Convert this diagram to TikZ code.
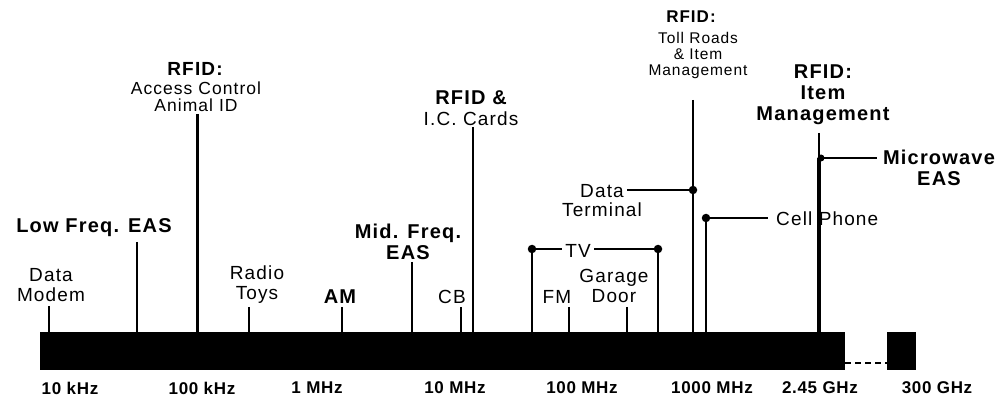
\documentclass[tikz,border=0pt]{standalone}
\usepackage{fontspec}
\setmainfont{Liberation Sans}
\newfontfamily\widefont{Liberation Sans}[LetterSpace=6]
\newfontfamily\freqfont{Liberation Sans}[LetterSpace=4]
\usetikzlibrary{positioning}

\begin{document}
\begin{tikzpicture}[x=1pt,y=-1pt,
    lbl/.style={font=\widefont\fontsize{19}{20}\selectfont, align=center, inner sep=0pt},
    blbl/.style={font=\widefont\bfseries\fontsize{20}{21}\selectfont, align=center, inner sep=0pt},
    slbl/.style={font=\widefont\fontsize{15.5}{16}\selectfont, align=center, inner sep=0pt},
    freq/.style={font=\freqfont\bfseries\fontsize{17}{18}\selectfont, inner sep=0pt},
    band/.style={fill=black, inner sep=0pt, minimum height=38pt, anchor=north west},
    tick/.style={line width=2.5pt},
    dot/.style={circle, fill=black, inner sep=0pt, minimum size=8.5pt}]
    \useasboundingbox (0,0) rectangle (1004,403);

    % spectrum band
    \node[band, minimum width=805pt] (band) at (40,332) {};
    \node[band, minimum width=29pt] (far) at (887,332) {};
    \draw[line width=2pt, dash pattern=on 6pt off 4pt]
        ([yshift=-12pt]band.east) -- ([yshift=-12pt]far.west);

    % frequency scale
    \foreach \x/\f in {70/10 kHz,202/100 kHz,317/1 MHz,455/10 MHz,
                       582/100 MHz,712/1000 MHz,820/2.45 GHz,937/300 GHz}
        {\node[freq] (f\x) at (\x,388) {\f};}

    % ticks
    \foreach \n/\x/\y in {modem/49/306,lowf/137/242,acc/197/114,toys/249/307,
                          am/342/307,midf/412/262,cb/461/307,icc/473/127,
                          tvl/532/249,fm/569/307,gar/627/307,tvr/658/249,
                          toll/693/100,cell/706/218}
        {\coordinate (\n) at (\x,\y);}
    \foreach \n in {modem,lowf,toys,am,midf,cb,icc,tvl,fm,gar,tvr,toll,cell}
        {\draw[tick] (\n) -- (\n |- band.north);}
    \draw[line width=3pt] (acc) -- (acc |- band.north);

    \coordinate (item) at (819,133);
    \coordinate (mw) at (819,158);
    \draw[tick] (item) -- (mw);
    \draw[line width=4.5pt] (mw) -- (mw |- band.north);

    % labels
    \node[lbl] (modemlbl) at (51,285) {Data\\Modem};
    \node[blbl] (lowflbl) at (94,228) {Low Freq. EAS};
    \node[blbl, font=\widefont\bfseries\fontsize{19}{20}\selectfont] (acclbl) at (195,69) {RFID:};
    \node[lbl, font=\widefont\fontsize{17.5}{17}\selectfont] (acclbl2) at (196,97) {Access Control\\Animal ID};
    \node[lbl] (toyslbl) at (257,285) {Radio\\Toys};
    \node[blbl] (amlbl) at (340,297) {AM};
    \node[blbl] (midflbl) at (408,242) {Mid. Freq.\\EAS};
    \node[lbl] (cblbl) at (452,297) {CB};
    \node[blbl] (icclbl) at (471,98) {RFID \&};
    \node[lbl] (icclbl2) at (471,119) {I.C. Cards};
    \node[lbl] (fmlbl) at (557,297) {FM};
    \node[lbl] (garlbl) at (614,286) {Garage\\Door};
    \node[blbl, font=\widefont\bfseries\fontsize{17}{18}\selectfont] (tolllbl) at (691,17) {RFID:};
    \node[slbl] (tolllbl2) at (698,55) {Toll Roads\\\& Item\\Management};
    \node[blbl] (itemlbl) at (823,95) {RFID:\\Item\\Management};
    \node[lbl, anchor=west] (celllbl) at (776,219) {Cell Phone};
    \node[blbl] (mwlbl) at (939,168) {Microwave\\EAS};

    % TV band
    \draw[tick] (tvl) -- (tvr);
    \node[lbl, fill=white, inner xsep=3pt, inner ysep=1pt] (tvlbl) at (578,251) {TV};

    % data terminal
    \node[lbl] (dtlbl) at (602,191) {Data};
    \node[lbl] (dtlbl2) at (602,210) {Terminal};
    \coordinate (tollj) at (693,190);
    \draw[tick] (tollj) -- ([xshift=3pt]tollj -| dtlbl.east);

    % cell phone and microwave
    \coordinate (cellend) at (768,218);
    \draw[tick] (cell) -- (cellend);
    \coordinate (mwend) at (877,158);
    \draw[tick] (mw) -- (mwend);

    % junction dots
    \foreach \n in {tvl,tvr,tollj,cell}
        {\node[dot] at (\n) {};}
    \node[dot, minimum size=7pt] at ([xshift=2pt]mw) {};
\end{tikzpicture}
\end{document}
